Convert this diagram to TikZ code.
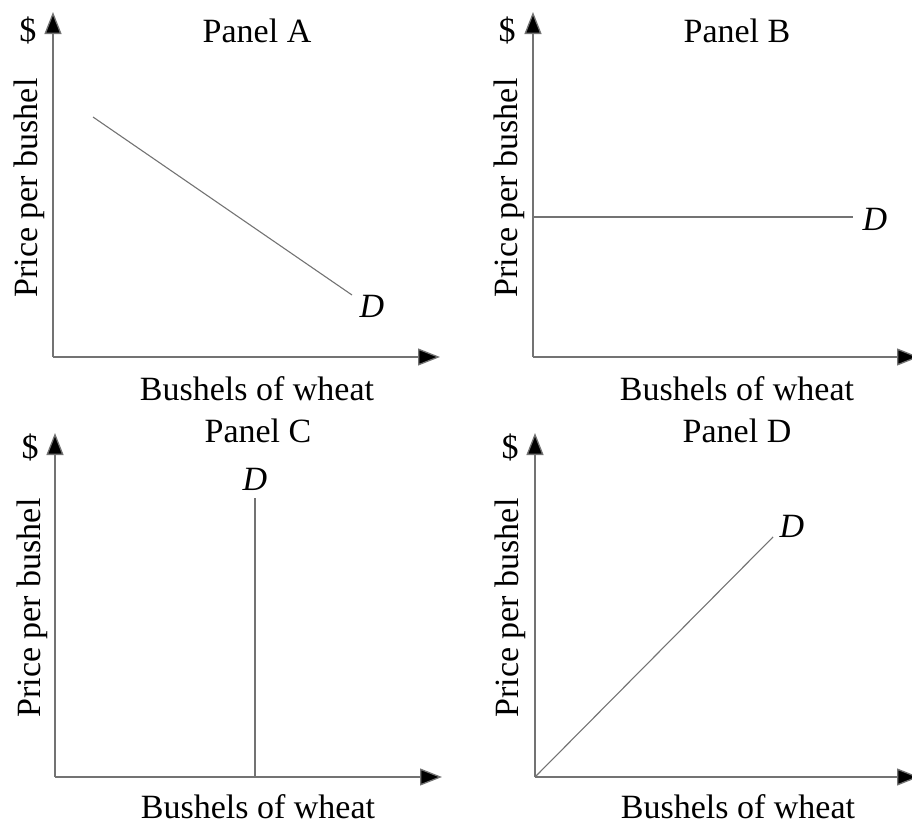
\documentclass[tikz,border=0pt]{standalone}
\usepackage{fontspec}
\setmainfont{Liberation Serif}
\usetikzlibrary{arrows.meta}
\tikzset{
  axis/.style={draw=black!55, line width=1.3pt, -{Triangle[length=22pt,width=17pt,fill=black]}},
  curve/.style={draw=black!55, line width=1.1pt},
  lbl/.style={font=\fontsize{34}{40}\selectfont, inner sep=0pt, anchor=base},
  dlbl/.style={font=\fontsize{34}{40}\selectfont\itshape, inner sep=0pt, anchor=base},
}
\begin{document}
\begin{tikzpicture}[x=1pt,y=-1pt]
\useasboundingbox (0,0) rectangle (912,827);
\clip (0,0) rectangle (912,827);
% ---------- Panel A ----------
\coordinate (oA) at (53,357);
\coordinate (yA) at (53,12);
\coordinate (xA) at (440,357);
\draw[axis] (oA) -- (yA);
\draw[axis] (oA) -- (xA);
\coordinate (a1) at (93,117);
\coordinate (a2) at (352,295);
\draw[curve] (a1) -- (a2);
\node[dlbl] (dA) at (372,317) {D};
\node[lbl] (sA) at (28,41) {\$};
\node[lbl] (tA) at (257,42) {Panel A};
\node[lbl] (bA) at (257,400) {Bushels of wheat};
\node[lbl, rotate=90] (pA) at (37,188) {Price per bushel};
% ---------- Panel B ----------
\coordinate (oB) at (533,357);
\coordinate (yB) at (533,12);
\coordinate (xB) at (919,357);
\draw[axis] (oB) -- (yB);
\draw[axis] (oB) -- (xB);
\coordinate (b1) at (533,217);
\coordinate (b2) at (853,217);
\draw[curve] (b1) -- (b2);
\node[dlbl] (dB) at (875,230) {D};
\node[lbl] (sB) at (507,41) {\$};
\node[lbl] (tB) at (737,42) {Panel B};
\node[lbl] (bB) at (737,400) {Bushels of wheat};
\node[lbl, rotate=90] (pB) at (517,188) {Price per bushel};
% ---------- Panel C ----------
\coordinate (oC) at (55,777);
\coordinate (yC) at (55,433);
\coordinate (xC) at (442,777);
\draw[axis] (oC) -- (yC);
\draw[axis] (oC) -- (xC);
\coordinate (c1) at (255,498);
\coordinate (c2) at (255,777);
\draw[curve] (c1) -- (c2);
\node[dlbl] (dC) at (255,490) {D};
\node[lbl] (sC) at (30,458) {\$};
\node[lbl] (tC) at (258,442) {Panel C};
\node[lbl] (bC) at (258,818) {Bushels of wheat};
\node[lbl, rotate=90] (pC) at (40,608) {Price per bushel};
% ---------- Panel D ----------
\coordinate (oD) at (535,777);
\coordinate (yD) at (535,433);
\coordinate (xD) at (919,777);
\draw[axis] (oD) -- (yD);
\draw[axis] (oD) -- (xD);
\coordinate (d2) at (773,537);
\draw[curve] (oD) -- (d2);
\node[dlbl] (dD) at (792,537) {D};
\node[lbl] (sD) at (510,458) {\$};
\node[lbl] (tD) at (737,442) {Panel D};
\node[lbl] (bD) at (738,818) {Bushels of wheat};
\node[lbl, rotate=90] (pD) at (518,608) {Price per bushel};
\end{tikzpicture}
\end{document}
